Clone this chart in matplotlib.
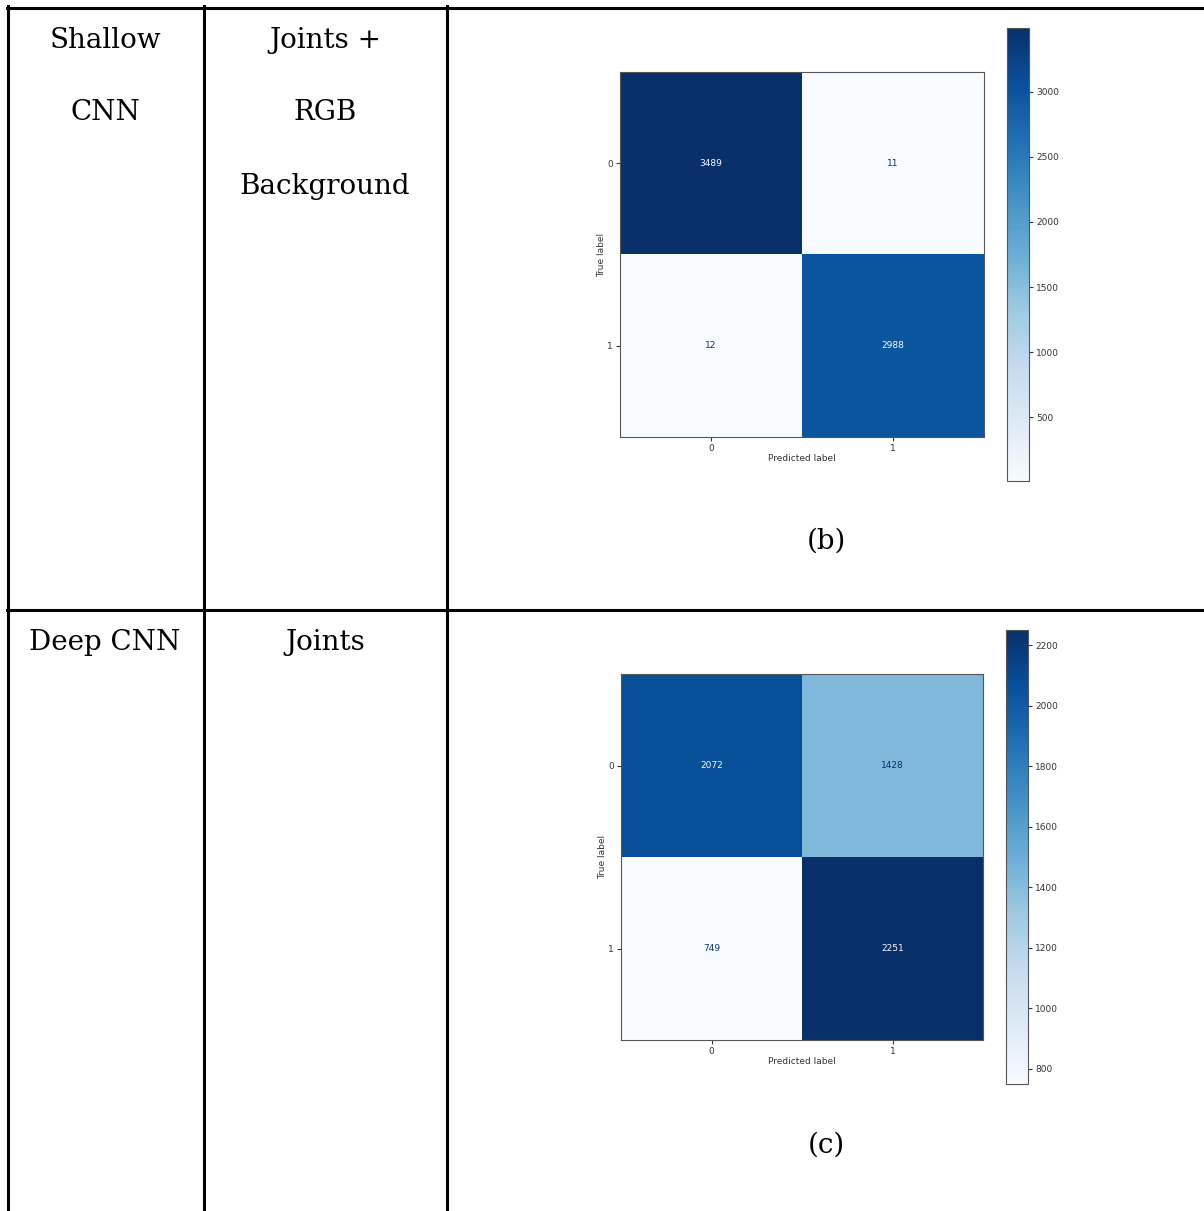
import numpy as np
import matplotlib
matplotlib.use('Agg')
import matplotlib.pyplot as plt
from matplotlib.lines import Line2D

# table cells text
models = ['Shallow\nCNN', 'Deep CNN']
inputs = ['Joints +\nRGB\nBackground', 'Joints']
panel_tags = ['(b)', '(c)']
class_labels = ['0', '1']

# confusion matrices (rows = true, cols = predicted)
cm_b = np.array([[3489, 11],
                 [12, 2988]])
cm_c = np.array([[2072, 1428],
                 [749, 2251]])
cbar_ticks_b = [500, 1000, 1500, 2000, 2500, 3000]
cbar_ticks_c = [800, 1000, 1200, 1400, 1600, 1800, 2000, 2200]

W, H = 1204, 1211
fig = plt.figure(figsize=(W / 100, H / 100), dpi=100)

def fx(px):
    return px / W

def fy(py):
    return 1 - py / H

# table grid lines
lw = 2.2
fig.add_artist(Line2D([fx(7), fx(W)], [fy(7.5), fy(7.5)], color='black', lw=lw))
fig.add_artist(Line2D([fx(7), fx(W)], [fy(609.5), fy(609.5)], color='black', lw=lw))
for x in [8, 203.5, 447]:
    fig.add_artist(Line2D([fx(x), fx(x)], [fy(6), fy(H)], color='black', lw=lw))

serif = 'DejaVu Serif'
line_gap = 73
for row_y, model, inp in zip([40, 643], models, inputs):
    for i, s in enumerate(model.split('\n')):
        fig.text(fx(105), fy(row_y + i * line_gap), s, ha='center', va='center',
                 family=serif, fontsize=20)
    for i, s in enumerate(inp.split('\n')):
        fig.text(fx(325), fy(row_y + i * line_gap), s, ha='center', va='center',
                 family=serif, fontsize=20)

def draw_cm(cm, ax_box, cb_box, ticks, tag, tag_y):
    ax = fig.add_axes(ax_box)
    cax = fig.add_axes(cb_box)
    cmap = plt.cm.Blues
    im = ax.imshow(cm, cmap=cmap, interpolation='nearest', aspect='auto')
    thresh = (cm.max() + cm.min()) / 2.0
    for i in range(cm.shape[0]):
        for j in range(cm.shape[1]):
            color = cmap(1.0) if cm[i, j] < thresh else cmap(0.0)
            ax.text(j, i, str(cm[i, j]), ha='center', va='center', color=color, fontsize=6.5)
    ax.set_xticks(range(len(class_labels)))
    ax.set_yticks(range(len(class_labels)))
    ax.set_xticklabels(class_labels)
    ax.set_yticklabels(class_labels)
    ax.tick_params(labelsize=6.5, length=3, pad=2, colors='#333333')
    ax.set_xlabel('Predicted label', fontsize=6.5, color='#333333', labelpad=1)
    ax.set_ylabel('True label', fontsize=6.5, color='#333333', labelpad=1)
    for sp in ax.spines.values():
        sp.set_color('#555555')
    cb = fig.colorbar(im, cax=cax, ticks=ticks)
    cb.ax.tick_params(labelsize=6.5, length=3, pad=2, colors='#333333')
    cb.outline.set_edgecolor('#555555')
    fig.text(fx(826), fy(tag_y), tag, ha='center', va='center', family=serif, fontsize=20)

draw_cm(cm_b, [fx(620), fy(437), fx(364), 365 / H],
        [fx(1007), fy(481), fx(22), 453 / H], cbar_ticks_b, panel_tags[0], 541)
draw_cm(cm_c, [fx(621), fy(1040), fx(362), 366 / H],
        [fx(1006), fy(1084), fx(22), 454 / H], cbar_ticks_c, panel_tags[1], 1145)

fig.savefig('out.png', dpi=100)
